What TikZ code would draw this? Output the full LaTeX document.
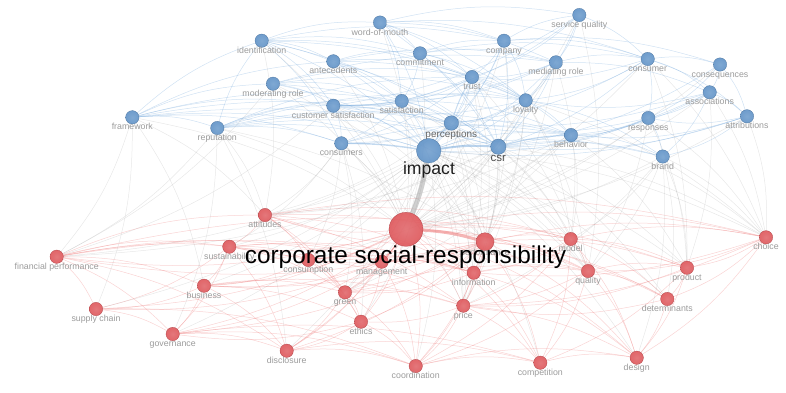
\documentclass[tikz,border=0pt]{standalone}
\usepackage{fontspec}
\setmainfont{Liberation Sans}
\pgfdeclarelayer{bg}
\pgfsetlayers{bg,main}
\definecolor{bfill}{RGB}{98,148,200}
\definecolor{rfill}{RGB}{222,88,92}
\definecolor{bline}{RGB}{120,170,220}
\definecolor{rline}{RGB}{235,110,110}
\definecolor{gline}{RGB}{150,150,150}
\definecolor{labg}{RGB}{155,155,155}
\tikzset{
 kwb/.style={circle,inner sep=0pt,minimum size=13.4pt,inner color=bfill!88!white,outer color=bfill,draw=bfill!80!black,line width=0.3pt,fill opacity=0.92},
 kwr/.style={circle,inner sep=0pt,minimum size=13.4pt,inner color=rfill!88!white,outer color=rfill,draw=rfill!80!black,line width=0.3pt,fill opacity=0.92},
 lab/.style={anchor=base,inner sep=0pt,text=labg,font=\fontsize{8.8}{10}\selectfont},
 be/.style={draw=bline,opacity=0.35,line width=0.5pt},
 re/.style={draw=rline,opacity=0.3,line width=0.5pt},
 ge/.style={draw=gline,opacity=0.22,line width=0.5pt},
}
\def\bluelist{wom/380/22.5/word-of-mouth, sq/579.3/15/service quality, ident/261.7/40.7/identification,
 company/504/40.7/company, commit/420/53.3/commitment, mediat/556/62.3/mediating role,
 consumer/647.7/59/consumer, conseq/720/64.5/consequences, antec/333.3/61.3/antecedents,
 trust/472/77/trust, moder/273/83.7/moderating role, assoc/709.7/92.3/associations,
 satis/401.7/101/satisfaction, loyalty/525.7/100.3/loyalty, custsat/333.3/105.7/customer satisfaction,
 framework/132.3/117.3/framework, attrib/747/116.3/attributions, respon/648.3/118/responses,
 reput/217.3/128/reputation, behav/571/135/behavior, consumers/341.3/143.3/consumers, brand/662.7/156.5/brand}
\def\redlist{att/265/215/attitudes, sust/229.3/246.7/sustainability, fin/56.7/256.7/financial performance,
 model/570.7/239/model, choice/766/237.3/choice, cons/308.3/260/consumption, mgmt/381.7/261.7/management,
 info/473.7/272.7/information, qual/588/271/quality, prod/687/267.7/product, bus/204/285.7/business,
 green/345/292.3/green, det/667.3/299/determinants, price/463.3/305.7/price, sc/96/309/supply chain,
 ethics/361/321.7/ethics, gov/172.7/334/governance, disc/286.7/350.7/disclosure,
 coord/415.7/366/coordination, comp/540.3/362.7/competition, design/636.7/357.7/design}
\begin{document}
\begin{tikzpicture}[x=1pt,y=-1pt]
\useasboundingbox (0,0) rectangle (786,392);
% circles
\foreach \n/\x/\y/\t in \bluelist {\node[kwb] (\n) at (\x,\y) {};}
\foreach \n/\x/\y/\t in \redlist {\node[kwr] (\n) at (\x,\y) {};}
\node[kwb,minimum size=24.6pt] (impact) at (428.7,150.7) {};
\node[kwb,minimum size=15.4pt] (csr) at (498.3,146.7) {};
\node[kwb,minimum size=14.6pt] (percep) at (451.3,123) {};
\node[kwr,minimum size=34pt] (csrb) at (406,229.3) {};
\node[kwr,minimum size=18pt] (perf) at (485,241.7) {};
% labels
\foreach \n/\x/\y/\t in \bluelist {\node[lab] (\n-l) at (\x,\y+12.5) {\t};}
\foreach \n/\x/\y/\t in \redlist {\node[lab] (\n-l) at (\x,\y+12.5) {\t};}
\node[lab,font=\fontsize{10}{12}\selectfont,text=black!60] (percep-l) at (451.3,137) {perceptions};
\node[lab,font=\fontsize{11.5}{13}\selectfont,text=black!70] (csr-l) at (498.3,161.5) {csr};
\node[lab] (perf-l) at (485,255) {performance};
\node[lab,font=\fontsize{17.6}{20}\selectfont,text=black!88] (impact-l) at (429,174) {impact};
\node[lab,font=\fontsize{24.4}{28}\selectfont,text=black] (csrb-l) at (405.5,263) {corporate social-responsibility};
% edges
\begin{pgfonlayer}{bg}
\foreach \a/\b in {impact/att, impact/sust, impact/perf, impact/cons, impact/mgmt, impact/info, impact/green, impact/price, impact/model, impact/qual, impact/bus, impact/fin, impact/ethics, impact/disc, impact/coord, impact/comp, impact/gov, impact/choice, impact/prod, impact/det, impact/design, impact/sc,
 csr/csrb, csr/perf, csr/model, csr/qual, csr/info, csr/price, csr/att, csr/choice, csr/prod, csr/det, csr/green, csr/fin,
 framework/fin, framework/csrb, framework/bus, framework/att, framework/sc,
 reput/csrb, reput/fin, reput/perf, reput/att, reput/gov, reput/disc,
 consumers/att, consumers/csrb, consumers/cons, consumers/green, consumers/sust, consumers/price, consumers/ethics,
 percep/csrb, percep/att, percep/perf, percep/price, percep/info,
 brand/csrb, brand/choice, brand/prod, brand/model, brand/qual, brand/det, brand/price, brand/design,
 behav/csrb, behav/choice, behav/model, behav/att, behav/green, behav/cons, behav/prod,
 respon/csrb, respon/choice, respon/prod, respon/qual, attrib/choice, attrib/csrb,
 assoc/csrb, assoc/prod, assoc/choice, trust/csrb, trust/perf, trust/qual, trust/price,
 satis/csrb, satis/perf, satis/qual, satis/price, satis/model,
 loyalty/csrb, loyalty/perf, loyalty/qual, loyalty/price, loyalty/model, loyalty/choice,
 custsat/csrb, custsat/perf, custsat/qual, custsat/fin, ident/csrb, ident/att,
 moder/csrb, moder/perf, moder/fin, mediat/csrb, mediat/perf, mediat/model,
 consumer/csrb, consumer/choice, consumer/prod, company/csrb, company/perf,
 commit/csrb, wom/csrb, sq/csrb, sq/qual, antec/csrb, conseq/csrb}
 \draw[ge] (\a) to[bend left=11] (\b);
\foreach \a/\b in {framework/ident, framework/moder, framework/custsat, framework/satis, framework/impact, framework/reput, framework/antec, framework/percep, framework/csr, framework/consumers,
 reput/custsat, reput/satis, reput/impact, reput/loyalty, reput/trust, reput/percep, reput/csr, reput/behav, reput/ident, reput/consumers,
 ident/wom, ident/commit, ident/company, ident/trust, ident/satis, ident/loyalty, ident/csr, ident/custsat, ident/consumers, ident/antec, ident/impact,
 wom/company, wom/sq, wom/commit, wom/trust, wom/loyalty, wom/satis, wom/csr, wom/impact, wom/consumer, wom/mediat,
 antec/commit, antec/trust, antec/satis, antec/loyalty, antec/mediat, antec/csr, antec/impact,
 moder/mediat, moder/satis, moder/loyalty, moder/custsat, moder/impact, moder/csr, moder/trust,
 commit/trust, commit/satis, commit/loyalty, commit/company, commit/consumer, commit/mediat, commit/csr,
 company/trust, company/sq, company/conseq, company/consumer, company/loyalty, company/csr, company/impact, company/percep,
 sq/mediat, sq/loyalty, sq/satis, sq/trust, sq/custsat, sq/consumer,
 mediat/trust, mediat/loyalty, mediat/satis, mediat/consumer, mediat/csr, mediat/impact, mediat/assoc, mediat/custsat,
 consumer/conseq, consumer/assoc, consumer/respon, consumer/attrib, consumer/csr, consumer/trust, consumer/loyalty, consumer/percep,
 conseq/assoc, conseq/attrib, conseq/csr, conseq/respon,
 assoc/attrib, assoc/respon, assoc/csr, assoc/brand, assoc/behav, assoc/percep, assoc/loyalty,
 attrib/respon, attrib/csr, attrib/impact, attrib/brand, attrib/behav,
 respon/csr, respon/behav, respon/brand, respon/percep, respon/impact,
 trust/satis, trust/loyalty, trust/percep, trust/impact, trust/csr, trust/custsat, trust/behav, trust/consumers,
 satis/custsat, satis/loyalty, satis/percep, satis/impact, satis/csr, satis/consumers, satis/behav,
 loyalty/custsat, loyalty/percep, loyalty/csr, loyalty/impact, loyalty/behav, loyalty/consumers, loyalty/brand,
 custsat/consumers, custsat/impact, custsat/percep, custsat/csr,
 percep/behav, percep/consumers, consumers/behav, impact/behav, impact/brand, csr/brand, behav/brand}
 \draw[be] (\a) to[bend left=11] (\b);
\foreach \a/\b in {csrb/att, csrb/sust, csrb/fin, csrb/model, csrb/choice, csrb/cons, csrb/mgmt, csrb/info, csrb/qual, csrb/prod, csrb/bus, csrb/green, csrb/det, csrb/price, csrb/sc, csrb/ethics, csrb/gov, csrb/disc, csrb/coord, csrb/comp, csrb/design,
 perf/fin, perf/att, perf/sust, perf/model, perf/choice, perf/cons, perf/mgmt, perf/info, perf/qual, perf/prod, perf/bus, perf/green, perf/price, perf/ethics, perf/gov, perf/disc, perf/coord, perf/comp, perf/design, perf/det,
 fin/att, fin/sust, fin/bus, fin/gov, fin/disc, fin/cons, fin/mgmt, fin/sc, fin/info, fin/model,
 att/sust, att/cons, att/green, att/model, att/choice, att/price, att/info, att/qual, att/ethics,
 sust/bus, sust/cons, sust/mgmt, sust/green, sust/sc, sust/gov, sust/disc, sust/info,
 model/choice, model/qual, model/price, model/design, model/comp, model/coord, model/prod, model/det, model/info,
 choice/prod, choice/qual, choice/det, choice/design, choice/price, choice/info,
 cons/green, cons/mgmt, cons/ethics, cons/price, cons/info, cons/bus,
 mgmt/info, mgmt/bus, mgmt/green, mgmt/ethics, mgmt/gov, mgmt/disc, mgmt/sc, mgmt/coord, mgmt/qual,
 info/price, info/qual, info/coord, info/comp, info/design, info/green,
 qual/prod, qual/price, qual/comp, qual/design, qual/det, qual/coord,
 prod/price, prod/design, prod/det, prod/comp,
 bus/gov, bus/ethics, bus/green, bus/sc, bus/disc, bus/price,
 green/ethics, green/price, green/coord, green/disc, green/qual,
 det/design, det/price, price/coord, price/comp, price/design, price/ethics,
 sc/gov, sc/coord, ethics/disc, ethics/coord, ethics/gov,
 gov/disc, gov/coord, gov/comp, disc/coord, disc/comp,
 coord/comp, coord/design, comp/design}
 \draw[re] (\a) to[bend left=11] (\b);
% strong links
\draw[ge,opacity=0.45,line width=5pt] (impact) to[bend left=6] (csrb);
\draw[re,opacity=0.5,line width=3pt] (csrb) to[bend left=6] (perf);
\draw[be,opacity=0.5,line width=2pt] (impact) to[bend left=6] (csr);
\draw[be,opacity=0.45,line width=1.4pt] (impact) to[bend left=6] (percep);
\draw[be,opacity=0.45,line width=1.4pt] (consumers) to[bend left=4] (impact);
\draw[be,opacity=0.45,line width=1.2pt] (csr) to[bend left=6] (behav);
\draw[be,opacity=0.4,line width=1pt] (percep) to[bend left=6] (trust);
\draw[be,opacity=0.4,line width=1pt] (satis) to[bend left=4] (custsat);
\draw[re,opacity=0.45,line width=1.2pt] (csrb) to[bend left=4] (mgmt);
\end{pgfonlayer}
\end{tikzpicture}
\end{document}
